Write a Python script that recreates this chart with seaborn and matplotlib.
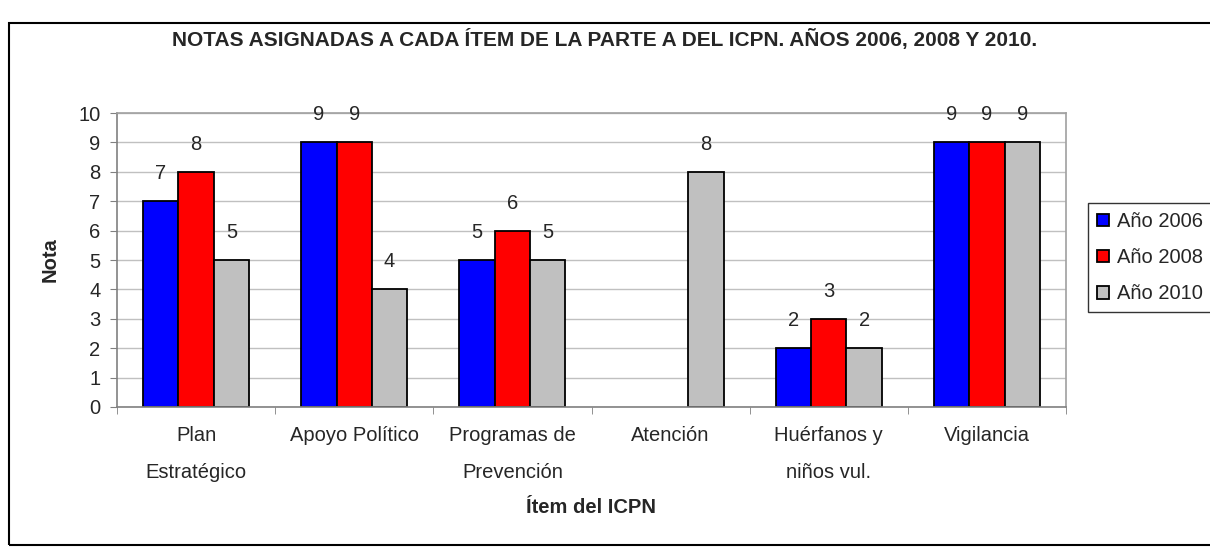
import matplotlib
matplotlib.use("Agg")
import matplotlib.pyplot as plt
import seaborn as sns
import pandas as pd
import numpy as np
from matplotlib.patches import Rectangle

categories = ["Plan\nEstratégico", "Apoyo Político", "Programas de\nPrevención",
              "Atención", "Huérfanos y\nniños vul.", "Vigilancia"]
series = ["Año 2006", "Año 2008", "Año 2010"]
v2006 = [7, 9, 5, np.nan, 2, 9]
v2008 = [8, 9, 6, np.nan, 3, 9]
v2010 = [5, 4, 5, 8, 2, 9]
colors = ["#0000FF", "#FF0000", "#C0C0C0"]

rows = []
for s, vals in zip(series, [v2006, v2008, v2010]):
    for c, v in zip(categories, vals):
        rows.append({"Ítem": c, "Serie": s, "Nota": v})
df = pd.DataFrame(rows)

sns.set_style("white")
plt.rcParams['font.family'] = ['Liberation Sans', 'DejaVu Sans']

FS = 14.5
fig = plt.figure(figsize=(12.1, 5.48), dpi=100)
ax = fig.add_axes([117/1210, 1-407/548, (1066-117)/1210, (407-113)/548])

sns.barplot(data=df, x="Ítem", y="Nota", hue="Serie", palette=colors,
            order=categories, hue_order=series, width=0.67, ax=ax,
            edgecolor="black", linewidth=1.3, saturation=1, errorbar=None,
            legend=True)

for cont in ax.containers:
    labels = ["" if np.isnan(v) else f"{v:.0f}" for v in cont.datavalues]
    ax.bar_label(cont, labels=labels, padding=13, fontsize=FS)

ax.set_ylim(0, 10)
ax.set_xlim(-0.5, len(categories) - 0.5)
ax.set_yticks(range(0, 11))
ax.yaxis.grid(True, color="#C0C0C0", linewidth=1)
ax.set_axisbelow(True)
for side in ["top", "right"]:
    ax.spines[side].set_color("#A0A0A0")
    ax.spines[side].set_linewidth(1.2)
for side in ["left", "bottom"]:
    ax.spines[side].set_color("#808080")
    ax.spines[side].set_linewidth(1.2)
ax.tick_params(axis="y", length=5, direction="out", color="#808080", labelsize=FS, pad=7, left=True)
ax.set_xticks(range(len(categories)))
ax.set_xticklabels(categories, fontsize=FS, linespacing=2.15)
ax.tick_params(axis="x", length=0, pad=14)
ax.set_xticks(np.arange(-0.5, len(categories)), minor=True)
ax.tick_params(axis="x", which="minor", length=5, direction="out", color="#808080", bottom=True)

ax.set_xlabel("Ítem del ICPN", fontsize=FS, fontweight="bold", labelpad=12)
ax.set_ylabel("Nota", fontsize=FS, fontweight="bold", labelpad=13)

fig.text(0.5, 1-46/548, "NOTAS ASIGNADAS A CADA ÍTEM DE LA PARTE A DEL ICPN. AÑOS 2006, 2008 Y 2010.",
         ha="center", va="baseline", fontsize=15, fontweight="bold")

leg = ax.legend(loc="upper left", bbox_to_anchor=(1088/1210, 1-203/548),
                bbox_transform=fig.transFigure, frameon=True, fontsize=FS,
                handlelength=0.6, handleheight=0.6, handletextpad=0.4,
                labelspacing=0.85, borderpad=0.45, borderaxespad=0,
                fancybox=False, edgecolor="black")
leg.get_frame().set_linewidth(1.0)

fig.patches.append(Rectangle((9/1210, 3/548), 1.2, 1-23/548-3/548, transform=fig.transFigure,
                             fill=False, edgecolor="black", linewidth=1.5))

fig.savefig("out.png", dpi=100)
